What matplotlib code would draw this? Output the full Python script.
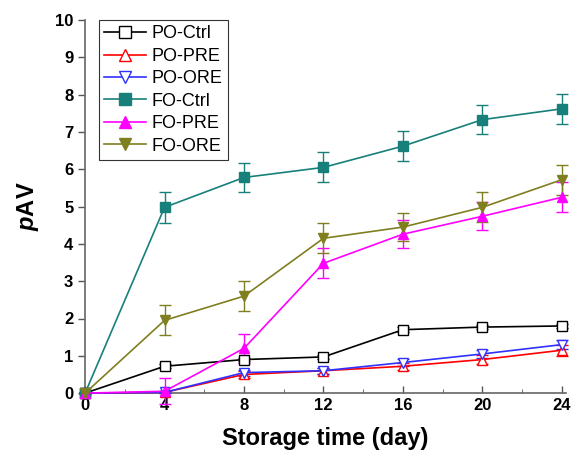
import matplotlib.pyplot as plt
from matplotlib.lines import Line2D
from matplotlib.ticker import MultipleLocator

plt.rcParams['font.family'] = ['Liberation Sans', 'DejaVu Sans']
plt.rcParams['mathtext.fontset'] = 'custom'
plt.rcParams['mathtext.bfit'] = 'Liberation Sans:bold:italic'
plt.rcParams['mathtext.bf'] = 'Liberation Sans:bold'

days = [0, 4, 8, 12, 16, 20, 24]

po_ctrl = [0, 0.72, 0.90, 0.97, 1.70, 1.77, 1.80]
po_ctrl_err = [0, 0.05, 0.05, 0.05, 0.06, 0.05, 0.05]
po_pre = [0, 0.02, 0.50, 0.60, 0.72, 0.90, 1.15]
po_pre_err = [0, 0.03, 0.10, 0.08, 0.10, 0.12, 0.15]
po_ore = [0, 0.02, 0.55, 0.60, 0.82, 1.05, 1.30]
po_ore_err = [0, 0.03, 0.08, 0.08, 0.10, 0.10, 0.12]
fo_ctrl = [0, 4.98, 5.78, 6.05, 6.62, 7.33, 7.62]
fo_ctrl_err = [0, 0.42, 0.40, 0.40, 0.40, 0.38, 0.40]
fo_pre = [0, 0.05, 1.20, 3.48, 4.26, 4.74, 5.25]
fo_pre_err = [0, 0.35, 0.38, 0.40, 0.38, 0.38, 0.40]
fo_ore = [0, 1.95, 2.60, 4.15, 4.45, 4.98, 5.72]
fo_ore_err = [0, 0.40, 0.40, 0.40, 0.38, 0.40, 0.40]

series = [
    ('PO-Ctrl', po_ctrl, po_ctrl_err, 'black', 's', 'white'),
    ('PO-PRE', po_pre, po_pre_err, 'red', '^', 'white'),
    ('PO-ORE', po_ore, po_ore_err, '#3030ff', 'v', 'white'),
    ('FO-Ctrl', fo_ctrl, fo_ctrl_err, '#17807a', 's', '#17807a'),
    ('FO-PRE', fo_pre, fo_pre_err, '#ff00ff', '^', '#ff00ff'),
    ('FO-ORE', fo_ore, fo_ore_err, '#7f7f1f', 'v', '#7f7f1f'),
]

fig = plt.figure(figsize=(5.75, 4.55), dpi=100)
ax = fig.add_axes([0.148, 0.136, 0.836, 0.82])

handles = []
for name, vals, err, color, mk, fc in series:
    ax.errorbar(days, vals, yerr=err, color=color, marker=mk, markersize=7,
                markerfacecolor=fc, markeredgecolor=color, linewidth=1.2,
                capsize=4, elinewidth=1, clip_on=False, zorder=3)
    handles.append(Line2D([], [], color=color, marker=mk, markersize=8,
                          markerfacecolor=fc, markeredgecolor=color,
                          linewidth=1.2, label=name))

ax.set_xlim(0, 24.2)
ax.set_ylim(0, 10)
ax.xaxis.set_major_locator(MultipleLocator(4))
ax.xaxis.set_minor_locator(MultipleLocator(2))
ax.yaxis.set_major_locator(MultipleLocator(1))
ax.tick_params(axis='x', direction='in', length=5, width=1, colors='#555555',
               labelcolor='black', labelsize=12)
ax.tick_params(axis='x', which='minor', direction='in', length=3, colors='#555555')
ax.tick_params(axis='y', direction='out', length=5, width=1, colors='#555555',
               labelcolor='black', labelsize=12)
for lbl in ax.get_xticklabels() + ax.get_yticklabels():
    lbl.set_fontweight('bold')

ax.spines['top'].set_visible(False)
ax.spines['right'].set_visible(False)
ax.spines['left'].set_color('#666666')
ax.spines['bottom'].set_color('#666666')
ax.spines['left'].set_linewidth(1.2)
ax.spines['bottom'].set_linewidth(1.2)

ax.set_xlabel('Storage time (day)', fontsize=17, fontweight='bold', labelpad=10)
ax.set_ylabel(r'$\mathbfit{p}$AV', fontsize=17, fontweight='bold', labelpad=10)

leg = ax.legend(handles=handles, loc='upper left', bbox_to_anchor=(0.029, 1.0),
                fontsize=13, frameon=True, fancybox=False, edgecolor='black',
                handlelength=2.3, borderpad=0.3, labelspacing=0.3,
                handletextpad=0.3, borderaxespad=0.0)
leg.get_frame().set_linewidth(0.8)

fig.savefig('out.png', dpi=100)
